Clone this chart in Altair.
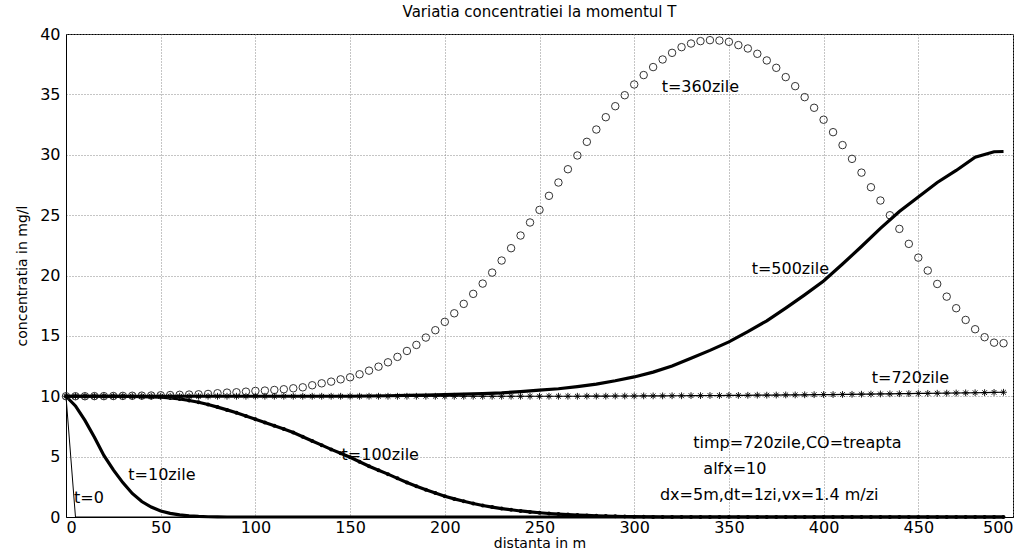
import altair as alt
import pandas as pd

# ---------------- data ----------------
X5 = list(range(0, 500, 5))  # grid nodes, dx = 5 m

# t = 0 (thin line)
X_T0 = [0, 5, 495]
C_T0 = [10.0, 0.0, 0.0]

# t = 10 zile (thick line)
X_T10 = [0, 5, 10, 15, 20, 25, 30, 35, 40, 45, 50, 55, 60, 65, 70, 75, 80, 85, 495]
C_T10 = [10.0, 9.2, 8.0, 6.6, 5.1, 3.9, 2.85, 1.95, 1.28, 0.82,
         0.5, 0.3, 0.18, 0.1, 0.05, 0.02, 0.01, 0.0, 0.0]

# t = 100 zile (thick line with dots, every node)
C_T100 = [10.0, 10.0, 10.0, 10.0, 10.0, 9.99, 9.99, 9.98, 9.97, 9.95,
          9.92, 9.86, 9.78, 9.65, 9.5, 9.32, 9.1, 8.87, 8.63, 8.37,
          8.1, 7.83, 7.55, 7.28, 7.0, 6.65, 6.3, 5.95, 5.6, 5.28,
          4.95, 4.58, 4.2, 3.88, 3.55, 3.2, 2.85, 2.55, 2.25, 1.98,
          1.72, 1.5, 1.3, 1.12, 0.95, 0.82, 0.7, 0.6, 0.5, 0.42,
          0.35, 0.29, 0.24, 0.2, 0.16, 0.13, 0.1, 0.08, 0.06, 0.04,
          0.03, 0.02, 0.01, 0.0, 0.0, 0.0, 0.0, 0.0, 0.0, 0.0,
          0.0, 0.0, 0.0, 0.0, 0.0, 0.0, 0.0, 0.0, 0.0, 0.0,
          0.0, 0.0, 0.0, 0.0, 0.0, 0.0, 0.0, 0.0, 0.0, 0.0,
          0.0, 0.0, 0.0, 0.0, 0.0, 0.0, 0.0, 0.0, 0.0, 0.0]

# t = 360 zile (open circles, every node)
C_T360 = [10.0, 10.0, 10.0, 10.01, 10.01, 10.02, 10.03, 10.04, 10.05, 10.06,
          10.08, 10.1, 10.12, 10.14, 10.16, 10.19, 10.25, 10.3, 10.33, 10.38,
          10.44, 10.47, 10.52, 10.58, 10.66, 10.74, 10.91, 11.07, 11.21, 11.4,
          11.57, 11.82, 12.12, 12.45, 12.81, 13.26, 13.75, 14.25, 14.86, 15.47,
          16.16, 16.87, 17.65, 18.48, 19.33, 20.24, 21.24, 22.26, 23.31, 24.39,
          25.43, 26.6, 27.7, 28.8, 29.94, 31.07, 32.09, 33.11, 34.02, 34.93,
          35.82, 36.6, 37.26, 37.89, 38.44, 38.91, 39.21, 39.41, 39.49, 39.46,
          39.35, 39.08, 38.8, 38.36, 37.81, 37.2, 36.43, 35.68, 34.77, 33.89,
          32.9, 31.87, 30.8, 29.66, 28.52, 27.31, 26.21, 24.99, 23.86, 22.62,
          21.48, 20.41, 19.3, 18.25, 17.29, 16.32, 15.55, 14.89, 14.44, 14.39]

# t = 500 zile (thick line)
X_T500 = [0, 150, 160, 170, 180, 190, 200, 210, 220, 230, 240, 250, 260, 270,
          280, 290, 300, 310, 320, 330, 340, 350, 360, 370, 380, 390, 400, 410,
          420, 430, 440, 450, 460, 470, 480, 490, 495]
C_T500 = [10.0, 10.0, 10.02, 10.04, 10.07, 10.1, 10.14, 10.18, 10.22, 10.28,
          10.38, 10.5, 10.62, 10.8, 11.0, 11.28, 11.6, 12.0, 12.5, 13.15,
          13.8, 14.5, 15.35, 16.25, 17.3, 18.4, 19.55, 20.95, 22.4, 23.9,
          25.3, 26.5, 27.7, 28.7, 29.8, 30.25, 30.27]

# t = 720 zile (asterisks joined by a line, every node)
C_T720 = [10.0, 10.0, 10.0, 10.0, 10.0, 10.0, 10.0, 10.0, 10.0, 10.0,
          10.0, 10.0, 10.0, 10.0, 10.0, 10.0, 10.0, 10.0, 10.0, 10.0,
          10.0, 10.0, 10.0, 10.0, 10.0, 10.0, 10.0, 10.0, 10.0, 10.0,
          10.0, 10.0, 10.0, 10.0, 10.0, 10.0, 10.0, 10.0, 10.0, 10.0,
          10.0, 10.0, 10.0, 10.0, 10.0, 10.0, 10.0, 10.0, 10.0, 10.0,
          10.0, 10.0, 10.0, 10.0, 10.0, 10.01, 10.01, 10.01, 10.02, 10.02,
          10.02, 10.03, 10.03, 10.03, 10.04, 10.04, 10.05, 10.05, 10.06, 10.06,
          10.07, 10.07, 10.08, 10.09, 10.09, 10.1, 10.11, 10.11, 10.12, 10.13,
          10.14, 10.14, 10.15, 10.16, 10.17, 10.18, 10.19, 10.2, 10.21, 10.22,
          10.23, 10.24, 10.25, 10.26, 10.27, 10.28, 10.29, 10.3, 10.32, 10.33]

# in-plot labels
LABELS = ["t=360zile", "t=500zile", "t=720zile", "t=100zile", "t=10zile", "t=0",
          "timp=720zile,CO=treapta", "alfx=10", "dx=5m,dt=1zi,vx=1.4 m/zi"]
LABEL_X = [314.5, 362, 425.4, 145.5, 32.9, 4.2, 331.2, 336.5, 313.6]
LABEL_Y = [35.65, 20.5, 11.5, 5.14, 3.48, 1.55, 6.1, 3.95, 1.82]

X_TICKS = [0, 50, 100, 150, 200, 250, 300, 350, 400, 450, 500]
Y_TICKS = [0, 5, 10, 15, 20, 25, 30, 35, 40]

# ---------------- chart ----------------
FONT = "DejaVu Sans"
xs = alt.Scale(domain=[0, 500], nice=False)
ys = alt.Scale(domain=[0, 40], nice=False)

x_axis = alt.Axis(values=X_TICKS, title="distanta in m", grid=True)
y_axis = alt.Axis(values=Y_TICKS, title="concentratia in mg/l", grid=True)


def enc(ch, **extra):
    return ch.encode(
        x=alt.X("x:Q", scale=xs, axis=x_axis),
        y=alt.Y("c:Q", scale=ys, axis=y_axis),
        **extra,
    )


df0 = pd.DataFrame({"x": X_T0, "c": C_T0})
df10 = pd.DataFrame({"x": X_T10, "c": C_T10})
df100 = pd.DataFrame({"x": X5, "c": C_T100})
df360 = pd.DataFrame({"x": X5, "c": C_T360})
df500 = pd.DataFrame({"x": X_T500, "c": C_T500})
df720 = pd.DataFrame({"x": X5, "c": C_T720})
dflab = pd.DataFrame({"x": LABEL_X, "c": LABEL_Y, "t": LABELS})

ASTERISK = "M-1,0L1,0M0,-1L0,1M-0.7,-0.7L0.7,0.7M-0.7,0.7L0.7,-0.7"

layers = [
    enc(alt.Chart(df0).mark_line(color="black", strokeWidth=1)),
    enc(alt.Chart(df10).mark_line(color="black", strokeWidth=3.2)),
    enc(alt.Chart(df100).mark_line(color="black", strokeWidth=3.2)),
    enc(alt.Chart(df100).mark_point(shape="circle", filled=True, color="black", size=16, opacity=1)),
    enc(alt.Chart(df360).mark_point(shape="circle", filled=False, color="#333333", strokeWidth=1, size=56, opacity=1)),
    enc(alt.Chart(df500).mark_line(color="black", strokeWidth=3.2)),
    enc(alt.Chart(df720).mark_line(color="black", strokeWidth=1.2)),
    enc(alt.Chart(df720).mark_point(shape=ASTERISK, filled=False, color="black", strokeWidth=0.9, size=46, opacity=1)),
    enc(alt.Chart(dflab).mark_text(align="left", baseline="middle", font=FONT, fontSize=16, color="black"),
        text="t:N"),
]

chart = alt.layer(*layers).properties(
    width=947,
    height=483,
    title=alt.TitleParams("Variatia concentratiei la momentul T", font=FONT, fontSize=15,
                          fontWeight="normal", color="black", offset=6),
    autosize=alt.AutoSizeParams(type="none"),
    padding={"left": 66, "top": 34, "right": 20, "bottom": 37},
    background="white",
).configure_view(
    stroke="black", strokeWidth=1
).configure_axis(
    labelFont=FONT, labelFontSize=16, labelColor="black",
    titleFont=FONT, titleFontSize=14, titleFontWeight="normal", titleColor="black",
    domainColor="black", domainWidth=1,
    ticks=False,
    gridColor="#8a8a8a", gridDash=[1, 2], gridWidth=1, gridOpacity=1,
).configure_axisX(
    labelPadding=2, titlePadding=1, titleBaseline="top"
).configure_axisY(
    labelPadding=6, titlePadding=10
)

chart.save("out.html", embed_options={"renderer": "svg", "actions": False})
